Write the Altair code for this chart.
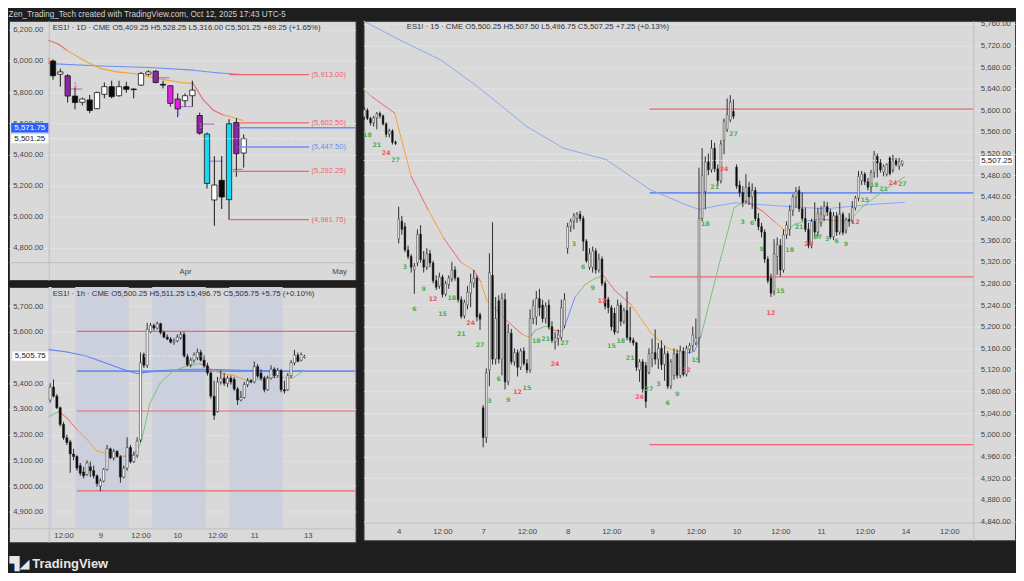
import json
import altair as alt
import pandas as pd

# ======================= TEXT =======================
HEADER = "Zen_Trading_Tech created with TradingView.com, Oct 12, 2025 17:43 UTC-5"
D_TITLE = "ES1! · 1D · CME   O5,409.25  H5,528.25  L5,316.00  C5,501.25  +89.25 (+1.65%)"
H_TITLE = "ES1! · 1h · CME   O5,500.25  H5,511.25  L5,496.75  C5,505.75  +5.75 (+0.10%)"
M_TITLE = "ES1! · 15 · CME   O5,500.25  H5,507.50  L5,496.75  C5,507.25  +7.25 (+0.13%)"
BRAND = "TradingView"
BRAND_MARK = "▜◢"

# ======================= DAILY (1D) =======================
D_BAR = list(range(1, 28))
D_OPEN = [6000, 5915, 5905, 5775, 5735, 5750, 5694, 5786, 5835, 5777, 5835, 5820, 5845, 5915,
          5934, 5850, 5841, 5756, 5745, 5777, 5650, 5531, 5108, 5234, 5110, 5605, 5409.25]
D_HIGH = [6010, 5951, 5915, 5830, 5765, 5782, 5803, 5862, 5873, 5873, 5866, 5824, 5930, 5941,
          5941, 5873, 5845, 5792, 5792, 5873, 5669, 5541, 5389, 5390, 5627, 5633, 5528.25]
D_LOW = [5880, 5835, 5733, 5690, 5715, 5665, 5690, 5760, 5760, 5771, 5796, 5760, 5840, 5905,
         5856, 5824, 5707, 5639, 5707, 5707, 5527, 5182, 4942, 5050, 4982, 5257, 5316]
D_CLOSE = [5905, 5930, 5775, 5733, 5756, 5682, 5798, 5835, 5771, 5835, 5818, 5816, 5920, 5930,
           5862, 5845, 5728, 5692, 5777, 5813, 5537, 5214, 5204, 5127, 5597, 5405, 5501.25]
D_KIND = ["down", "up", "purple", "down", "up", "down", "up", "up", "down", "up", "down", "down",
          "up", "up", "purple", "down", "magenta", "magenta", "up", "up", "purple", "cyan", "up",
          "down", "cyan", "purple", "up"]
D_TICK_POS = [19, 40]
D_TICK_TXT = ["Apr", "May"]
D_PRICE_TICKS = [4800, 5000, 5200, 5400, 5600, 5800, 6000, 6200]
D_EMA_X = [0.46, 1.8, 2.9, 5.2, 7.5, 9.7, 12.0, 14.2, 16.5, 18.7, 20.1, 21.5, 22.8, 24.2, 25.5, 26.9]
D_EMA_P = [6132, 6107, 6068, 6005, 5951, 5930, 5920, 5898, 5877, 5860, 5856, 5750, 5686, 5654, 5639, 5618]
D_EMA_C = ["red", "red", "orange", "orange", "orange", "orange", "orange", "orange", "orange",
           "orange", "red", "red", "red", "orange", "orange", "orange"]
D_SMA_X = [0.46, 7.5, 14.2, 20.1, 23.3, 26.9]
D_SMA_P = [5983, 5968, 5958, 5941, 5924, 5913]
D_LEVEL_P = [5913.00, 5602.50, 5447.50, 5292.25, 4981.75]
D_LEVEL_K = ["red", "red", "blue", "red", "red"]
D_LEVEL_START = [25.0, 26.3, 26.3, 25.5, 25.0]
D_LEVEL_END = 35.9
D_LEVEL_TAG_AT = 38.6
D_PREV_CLOSE_LINE = 5571.75
D_PREV_CLOSE_START = 26.3
D_LAST = 5501.25
D_MARK_X0 = [3.4, 15.1, 18.1, 21.0, 22.4, 25.5]
D_MARK_X1 = [5.0, 16.9, 20.0, 23.0, 24.1, 26.9]
D_MARK_P = [5820, 5892, 5707, 5595, 5357, 5304]
D_ONE_X = [0.46, 4.07, 18.1, 21.1]
D_ONE_P = [6000, 5845, 5669, 5580]
D_ONE_K = ["black", "red", "blue", "red"]

# ======================= HOURLY (1h) =======================
H_FIRST_BAR = -15
H_OHLC = [
    [5335, 5400, 5325, 5385], [5385, 5415, 5345, 5350], [5350, 5358, 5300, 5305], [5305, 5310, 5232, 5240],
    [5240, 5250, 5180, 5188], [5188, 5200, 5160, 5170], [5172, 5180, 5052, 5125], [5125, 5145, 5100, 5115],
    [5115, 5120, 5060, 5070], [5080, 5090, 5040, 5050], [5055, 5075, 5030, 5040], [5045, 5100, 5040, 5090],
    [5075, 5095, 5035, 5060], [5060, 5080, 5030, 5040], [5040, 5045, 4998, 5010], [5000, 5030, 4980, 5020],
    [5020, 5070, 5015, 5065], [5065, 5160, 5060, 5145], [5145, 5150, 5105, 5110], [5110, 5145, 5100, 5135],
    [5135, 5140, 5110, 5115], [5115, 5120, 5013, 5035], [5035, 5080, 5030, 5070], [5070, 5190, 5060, 5150],
    [5150, 5160, 5088, 5095], [5095, 5135, 5090, 5120], [5120, 5190, 5110, 5175], [5180, 5520, 5170, 5480],
    [5512, 5520, 5460, 5470], [5470, 5635, 5460, 5610], [5600, 5635, 5595, 5625], [5625, 5632, 5605, 5615],
    [5615, 5640, 5610, 5632], [5632, 5636, 5590, 5598], [5598, 5605, 5575, 5580], [5580, 5590, 5568, 5572],
    [5572, 5580, 5555, 5560], [5560, 5575, 5550, 5565], [5565, 5590, 5560, 5580], [5578, 5600, 5570, 5590],
    [5590, 5600, 5500, 5505], [5505, 5515, 5465, 5472], [5472, 5500, 5462, 5490], [5490, 5520, 5480, 5510],
    [5500, 5535, 5490, 5520], [5520, 5530, 5485, 5490], [5490, 5510, 5460, 5468], [5468, 5480, 5430, 5440],
    [5440, 5445, 5340, 5350], [5350, 5410, 5258, 5275], [5290, 5425, 5285, 5405], [5405, 5450, 5395, 5420],
    [5420, 5440, 5390, 5400], [5400, 5430, 5385, 5420], [5420, 5430, 5395, 5405], [5415, 5425, 5370, 5378],
    [5378, 5385, 5316, 5335], [5335, 5370, 5330, 5345], [5345, 5405, 5340, 5395], [5395, 5420, 5385, 5410],
    [5410, 5415, 5400, 5405], [5405, 5485, 5400, 5465], [5465, 5475, 5420, 5428], [5440, 5455, 5410, 5420],
    [5420, 5428, 5365, 5375], [5375, 5430, 5370, 5420], [5420, 5470, 5415, 5455], [5455, 5462, 5420, 5430],
    [5430, 5460, 5425, 5450], [5450, 5455, 5365, 5375], [5375, 5410, 5360, 5370], [5375, 5440, 5370, 5430],
    [5430, 5490, 5420, 5480], [5480, 5530, 5470, 5510], [5510, 5520, 5482, 5485], [5490, 5520, 5485, 5512],
    [5500.25, 5511.25, 5496.75, 5505.75],
]
H_TICK_POS = [-11, 0, 12, 23, 35, 46, 62]
H_TICK_TXT = ["12:00", "9", "12:00", "10", "12:00", "11", "13"]
# 5,500.00 sits under the last-price tag in the reference, so it is not printed
H_PRICE_TICKS = [4900, 5000, 5100, 5200, 5300, 5400, 5600, 5700]
H_BAND_START = [-30.5, -7.5, 15.5, 38.5]
H_BAND_END = [-14.5, 8.5, 31.5, 54.5]
H_EMA_X = [-15.3, -12.4, -9.9, -6.9, -4.0, -1.0, 2.0, 4.5, 6.9, 9.4, 10.9, 12.4, 14.8, 17.8, 21.8,
           25.7, 29.7, 32.1, 33.6, 36.6, 39.6, 43.5, 46.5, 49.5, 54.4, 57.4, 60.8]
H_EMA_P = [5271, 5290, 5264, 5219, 5181, 5136, 5127, 5127, 5116, 5119, 5136, 5181, 5322, 5400, 5449,
           5467, 5477, 5464, 5449, 5438, 5432, 5413, 5413, 5423, 5423, 5420, 5449]
H_EMA_C = ["green", "red", "red", "orange", "orange", "orange", "red", "orange", "blue", "blue", "green",
           "green", "green", "green", "green", "green", "red", "red", "orange", "orange", "orange",
           "green", "green", "green", "orange", "green", "green"]
H_SMA_X = [-15.3, -9.9, -4.0, 2.0, 7.9, 10.9, 12.9, 17.8, 23.7, 29.7, 35.6, 41.5, 49.5, 55.4, 60.8]
H_SMA_P = [5531, 5522, 5505, 5477, 5449, 5438, 5441, 5449, 5454, 5455, 5454, 5451, 5449, 5446, 5449]
H_LEVEL_P = [5602.50, 5447.50, 5292.25, 4981.75]
H_LEVEL_K = ["red", "blue", "red", "red"]
H_LEVEL_START = -7
H_LAST = 5505.75

# ======================= 15 MINUTE =======================
M15_APR03 = [[5588, 5606, 5582, 5601], [5600, 5604, 5582, 5585], [5585, 5588, 5572, 5577], [5577, 5590, 5570, 5586],
             [5586, 5597, 5565, 5594], [5594, 5598, 5585, 5590], [5590, 5592, 5572, 5575], [5575, 5578, 5550, 5556],
             [5556, 5566, 5550, 5562], [5562, 5565, 5537, 5541], [5541, 5544, 5536, 5539]]
M15_APR04 = [[5362, 5422, 5354, 5399], [5395, 5405, 5370, 5380], [5385, 5392, 5338, 5342], [5342, 5350, 5325, 5330],
             [5330, 5334, 5300, 5310], [5305, 5318, 5261, 5312], [5318, 5380, 5312, 5371], [5371, 5388, 5318, 5324],
             [5324, 5340, 5300, 5310], [5310, 5345, 5305, 5335], [5335, 5342, 5310, 5318], [5318, 5322, 5280, 5285],
             [5285, 5295, 5268, 5273], [5275, 5300, 5270, 5292], [5292, 5296, 5254, 5260], [5260, 5285, 5256, 5280],
             [5278, 5295, 5270, 5290], [5288, 5320, 5283, 5305], [5305, 5312, 5285, 5290], [5290, 5292, 5245, 5250],
             [5250, 5256, 5215, 5219], [5220, 5250, 5215, 5245], [5240, 5275, 5232, 5264], [5262, 5298, 5236, 5282],
             [5280, 5305, 5272, 5290], [5290, 5295, 5210, 5218], [5222, 5226, 5194, 5214]]
M15_APR07 = [[5050, 5055, 4977, 4995], [4995, 5123, 4985, 5115], [5120, 5336, 5090, 5300], [5295, 5393, 5130, 5140],
             [5140, 5255, 5130, 5215], [5248, 5258, 5132, 5140], [5140, 5262, 5110, 5252], [5250, 5262, 5084, 5098],
             [5098, 5205, 5092, 5190], [5188, 5196, 5130, 5135], [5135, 5160, 5128, 5152], [5152, 5158, 5108, 5125],
             [5125, 5160, 5120, 5155], [5155, 5162, 5128, 5132], [5132, 5140, 5114, 5120], [5120, 5232, 5115, 5215],
             [5215, 5250, 5205, 5240], [5218, 5266, 5203, 5252], [5252, 5270, 5220, 5235], [5240, 5250, 5208, 5215],
             [5215, 5245, 5206, 5238], [5240, 5250, 5195, 5200], [5200, 5210, 5170, 5175], [5172, 5190, 5158, 5180],
             [5178, 5195, 5165, 5185], [5180, 5250, 5175, 5235], [5202, 5262, 5197, 5250]]
M15_APR08 = [[5345, 5392, 5335, 5385], [5385, 5400, 5375, 5395], [5395, 5410, 5380, 5405], [5400, 5412, 5392, 5408],
             [5408, 5414, 5395, 5400], [5400, 5405, 5340, 5358], [5358, 5362, 5318, 5322], [5310, 5345, 5305, 5335],
             [5310, 5348, 5300, 5340], [5340, 5345, 5298, 5305], [5305, 5335, 5300, 5325], [5325, 5330, 5275, 5280],
             [5280, 5285, 5232, 5238], [5250, 5255, 5225, 5235], [5235, 5240, 5193, 5200], [5225, 5235, 5185, 5190],
             [5190, 5250, 5188, 5240], [5240, 5245, 5201, 5210], [5210, 5235, 5205, 5230], [5230, 5265, 5175, 5180],
             [5180, 5237, 5170, 5175], [5175, 5180, 5165, 5170], [5170, 5172, 5118, 5125], [5120, 5140, 5098, 5135],
             [5135, 5140, 5078, 5085], [5128, 5135, 5050, 5062], [5115, 5160, 5112, 5150]]
M15_APR09 = [[5140, 5178, 5125, 5152], [5152, 5195, 5130, 5140], [5140, 5170, 5122, 5160], [5160, 5175, 5120, 5130],
             [5130, 5165, 5100, 5150], [5150, 5155, 5085, 5090], [5090, 5140, 5085, 5135], [5110, 5160, 5102, 5150],
             [5150, 5158, 5104, 5110], [5110, 5165, 5105, 5155], [5155, 5162, 5108, 5112], [5112, 5165, 5108, 5160],
             [5158, 5170, 5150, 5165], [5165, 5200, 5155, 5185], [5170, 5215, 5166, 5180], [5180, 5494, 5133, 5400],
             [5400, 5530, 5395, 5480], [5450, 5515, 5417, 5505], [5505, 5520, 5480, 5490], [5490, 5545, 5485, 5530],
             [5530, 5540, 5486, 5492], [5492, 5500, 5460, 5470], [5470, 5545, 5465, 5538], [5545, 5585, 5519, 5580],
             [5565, 5622, 5560, 5592], [5582, 5628, 5578, 5615], [5598, 5620, 5584, 5589]]
M15_APR10 = [[5495, 5500, 5455, 5460], [5462, 5470, 5440, 5448], [5448, 5460, 5421, 5430], [5432, 5482, 5428, 5458],
             [5458, 5468, 5425, 5440], [5440, 5465, 5418, 5452], [5452, 5458, 5395, 5400], [5400, 5410, 5378, 5385],
             [5385, 5392, 5365, 5375], [5375, 5380, 5318, 5325], [5325, 5330, 5280, 5285], [5290, 5298, 5255, 5262],
             [5265, 5362, 5258, 5335], [5330, 5365, 5296, 5352], [5350, 5362, 5293, 5305], [5305, 5380, 5300, 5370],
             [5370, 5395, 5362, 5388], [5380, 5425, 5368, 5415], [5415, 5445, 5405, 5440], [5440, 5458, 5420, 5450],
             [5452, 5460, 5412, 5418], [5418, 5448, 5395, 5400], [5400, 5420, 5375, 5380], [5380, 5392, 5345, 5350],
             [5350, 5400, 5345, 5395], [5395, 5430, 5365, 5375], [5375, 5420, 5365, 5410]]
M15_APR11 = [[5392, 5423, 5385, 5408], [5405, 5432, 5395, 5422], [5422, 5430, 5405, 5412], [5412, 5418, 5362, 5366],
             [5366, 5412, 5360, 5405], [5405, 5412, 5368, 5375], [5375, 5430, 5370, 5408], [5408, 5412, 5369, 5374],
             [5378, 5402, 5372, 5398], [5398, 5410, 5385, 5395], [5395, 5432, 5392, 5420], [5420, 5442, 5415, 5438],
             [5438, 5488, 5432, 5478], [5470, 5488, 5462, 5482], [5482, 5486, 5462, 5468], [5468, 5475, 5452, 5458],
             [5458, 5490, 5448, 5485], [5485, 5525, 5475, 5518], [5515, 5520, 5476, 5503], [5503, 5510, 5485, 5490],
             [5486, 5500, 5478, 5497], [5482, 5502, 5478, 5500], [5512, 5515, 5480, 5483], [5490, 5518, 5485, 5508],
             [5508, 5512, 5496, 5500], [5497, 5512, 5490, 5506], [5500.25, 5507.5, 5496.75, 5507.25]]
M15_DAYS = [M15_APR03, M15_APR04, M15_APR07, M15_APR08, M15_APR09, M15_APR10, M15_APR11]
M15_BARS_PER_DAY = 27
M15_FIRST_BAR = -11
# count tags (every 3rd bar of the session) and the price where each is printed
M15_TAG_APR03 = [5554, 5536, 5521, 5508]
M15_TAG_APR04 = [5311, 5232, 5270, 5251, 5224, 5253, 5186, 5207, 5166]
M15_TAG_APR07 = [5062, 5103, 5065, 5079, 5086, 5174, 5178, 5131, 5170]
M15_TAG_APR08 = [5353, 5310, 5272, 5248, 5164, 5174, 5142, 5070, 5085]
M15_TAG_APR09 = [5094, 5058, 5076, 5120, 5139, 5390, 5458, 5491, 5557]
M15_TAG_APR10 = [5394, 5391, 5344, 5226, 5266, 5341, 5385, 5353, 5365]
M15_TAG_APR11 = [5362, 5358, 5353, 5393, 5434, 5462, 5454, 5465, 5463]
M15_TAGS = [M15_TAG_APR03, M15_TAG_APR04, M15_TAG_APR07, M15_TAG_APR08, M15_TAG_APR09, M15_TAG_APR10, M15_TAG_APR11]
M15_TICK_POS = [0, 14, 27, 41, 54, 68, 81, 95, 108, 122, 135, 149, 162, 176]
M15_TICK_TXT = ["4", "12:00", "7", "12:00", "8", "12:00", "9", "12:00", "10", "12:00", "11", "12:00", "14", "12:00"]
M15_PRICE_TICKS = list(range(4840, 5761, 40))
M15_EMA_X = [-11.2, -8.5, -1.3, 4.0, 9.3, 14.6, 19.9, 24.1, 26.2, 28.2, 31.3, 35.5, 39.7, 41.9, 43.8, 47.0,
             49.1, 52.3, 53.2, 56.4, 59.6, 62.7, 65.4, 69.1, 74.4, 80.7, 86.0, 91.3, 94.5, 96.6, 99.8, 103.0,
             107.2, 110.9, 116.2, 120.4, 123.6, 126.8, 131.0, 135.2, 139.5, 142.6, 144.7, 147.9, 152.2, 156.4, 161.7]
M15_EMA_P = [5639, 5625, 5595, 5478, 5417, 5362, 5319, 5304, 5283, 5248, 5231, 5206, 5185, 5180, 5194, 5201,
             5194, 5191, 5203, 5255, 5278, 5289, 5295, 5267, 5240, 5188, 5160, 5151, 5154, 5182, 5255, 5328,
             5420, 5433, 5414, 5393, 5377, 5390, 5396, 5399, 5396, 5396, 5399, 5420, 5439, 5457, 5477]
M15_EMA_C = ["orange", "red", "orange", "red", "orange", "red", "orange", "red", "orange", "orange", "red", "red",
             "orange", "blue", "green", "green", "red", "blue", "blue", "green", "green", "green", "red", "red",
             "orange", "orange", "orange", "blue", "blue", "green", "green", "green", "green", "red", "red",
             "orange", "green", "green", "blue", "red", "orange", "blue", "green", "green", "green", "green", "green"]
M15_SMA_X = [-11.2, 0.8, 13.5, 25.2, 41.0, 52.7, 66.4, 80.2, 92.9, 96.1, 102.4, 107.7, 122.5, 136.3, 151.1, 161.7]
M15_SMA_P = [5765, 5729, 5693, 5644, 5570, 5530, 5509, 5454, 5423, 5417, 5424, 5429, 5423, 5418, 5426, 5430]
M15_LEVEL_P = [5602.50, 5447.50, 5292.25, 4981.75]
M15_LEVEL_K = ["red", "blue", "red", "red"]
M15_LEVEL_START = 80.2
M15_LAST = 5507.25

# ======================= STYLE / LAYOUT =======================
FONT = "Liberation Sans"
PAGE_BG = "#1e1e1e"
PANEL_BG = "#d9d9d9"
BAND_BG = "#ccd0dc"
GRID = "#e2e2e2"
SEP = "#bdbdbd"
LABEL = "#454545"
RED = "#ef5f6a"
BLUE = "#4a7cf0"
TAG_GREEN = "#4caf50"
TAG_RED = "#f4525d"

LEFT_W, RIGHT_W = 349, 656
D_H, H_H, M_H = 261, 257, 523
D_X_DOM, D_Y_DOM = [-5.0, 42.255], [4593.95, 6257.36]
H_X_DOM, H_Y_DOM = [-27.30, 76.27], [4781.5, 5774.7]
M_X_DOM, M_Y_DOM = [-11.238, 197.02], [4805.1, 5765.5]
Y_OFF_LEFT, Y_OFF_RIGHT = -40, -42
D_X_OFF, H_X_OFF, M_X_OFF = -18, -14, -18


def sc(dom):
    return alt.Scale(domain=list(dom), nice=False, zero=False)


def px_to_x(dom, width, px):
    return dom[0] + px / width * (dom[1] - dom[0])


def px_to_y(dom, height, py_from_bottom):
    return dom[0] + py_from_bottom / height * (dom[1] - dom[0])


D_AXIS_X = px_to_x(D_X_DOM, LEFT_W, -Y_OFF_LEFT)
H_AXIS_X = px_to_x(H_X_DOM, LEFT_W, -Y_OFF_LEFT)
M_AXIS_X = px_to_x(M_X_DOM, RIGHT_W, RIGHT_W + Y_OFF_RIGHT)
H_PLOT_BOTTOM = px_to_y(H_Y_DOM, H_H, -H_X_OFF)


def label_expr(pos, txt):
    return f"{json.dumps(txt)}[indexof({json.dumps(pos)}, datum.value)]"


AX_COMMON = dict(ticks=False, domain=True, domainColor=SEP, labelFontSize=7.8, labelColor=LABEL,
                 labelFont=FONT, labelOverlap=False, tickCount=200)


def y_axis(values, orient, offset, pad, **kw):
    opts = dict(orient=orient, offset=offset, values=values, format=",.2f", grid=True,
                gridColor=GRID, gridWidth=1, labelPadding=pad, labelBaseline="middle",
                title=None, **AX_COMMON)
    opts.update(kw)
    return alt.Axis(**opts)


def x_axis(pos, txt, offset, pad, **kw):
    opts = dict(orient="bottom", offset=offset, values=pos, labelExpr=label_expr(pos, txt),
                grid=False, labelPadding=pad, labelBaseline="top", labelFlush=False,
                title=None, **AX_COMMON)
    opts.update(kw)
    return alt.Axis(**opts)


def carrier(xdom, ydom, xaxis, yaxis):
    df = pd.DataFrame({"x": [xdom[0]], "y": [ydom[1]]})
    return alt.Chart(df).mark_point(opacity=0, size=0, strokeWidth=0).encode(
        x=alt.X("x:Q", scale=sc(xdom), axis=xaxis),
        y=alt.Y("y:Q", scale=sc(ydom), axis=yaxis))


def X(field, dom):
    return alt.X(field, scale=sc(dom))


def Y(field, dom):
    return alt.Y(field, scale=sc(dom))


def candles(df, xdom, ydom, hw, fill_scale, wick, stroke, sw, wick_w=1.0):
    base = alt.Chart(df)
    w = base.mark_rule(color=wick, strokeWidth=wick_w).encode(
        x=X("x:Q", xdom), y=Y("low:Q", ydom), y2="high:Q")
    b = base.transform_calculate(x0=f"datum.x - {hw}", x1=f"datum.x + {hw}").mark_bar(
        stroke=stroke, strokeWidth=sw).encode(
        x=X("x0:Q", xdom), x2="x1:Q", y=Y("open:Q", ydom), y2="close:Q",
        fill=alt.Fill("kind:N", scale=fill_scale, legend=None))
    return [w, b]


MA_SCALE = alt.Scale(domain=["red", "orange", "green", "blue"],
                     range=["#ef6470", "#f4a236", "#7cc27c", "#6c8ff0"])
LEVEL_SCALE = alt.Scale(domain=["red", "blue"], range=[RED, BLUE])


def ma_line(xs, ps, xdom, ydom, colors=None, color=None, width=1.0):
    df = pd.DataFrame({"x": xs[:-1], "x2": xs[1:], "y": ps[:-1], "y2": ps[1:],
                       "c": (colors[:-1] if colors else ["blue"] * (len(xs) - 1))})
    enc = dict(x=X("x:Q", xdom), x2="x2:Q", y=Y("y:Q", ydom), y2="y2:Q")
    if colors:
        return alt.Chart(df).mark_rule(strokeWidth=width, strokeCap="round").encode(
            color=alt.Color("c:N", scale=MA_SCALE, legend=None), **enc)
    return alt.Chart(df).mark_rule(strokeWidth=width, strokeCap="round", color=color).encode(**enc)


def levels(xs, x2s, ps, kinds, xdom, ydom):
    df = pd.DataFrame({"x": xs, "x2": x2s, "y": ps, "k": kinds,
                       "w": [1.6 if k == "blue" else 1.25 for k in kinds]})
    return alt.Chart(df).mark_rule().encode(
        x=X("x:Q", xdom), x2="x2:Q", y=Y("y:Q", ydom),
        color=alt.Color("k:N", scale=LEVEL_SCALE, legend=None),
        strokeWidth=alt.StrokeWidth("w:Q", scale=None, legend=None))


def dotted(x0, x1, p, xdom, ydom):
    df = pd.DataFrame({"x": [x0], "x2": [x1], "y": [p]})
    return alt.Chart(df).mark_rule(color="#ffffff", strokeDash=[1, 2], strokeWidth=1, opacity=0.95).encode(
        x=X("x:Q", xdom), x2="x2:Q", y=Y("y:Q", ydom))


def price_box(x0, x1, p, half, fill, tcolor, xdom, ydom):
    df = pd.DataFrame({"x": [x0], "x2": [x1], "y": [p - half], "y2": [p + half], "p": [p],
                       "xm": [(x0 + x1) / 2], "t": [f"{p:,.2f}"]})
    r = alt.Chart(df).mark_rect(color=fill).encode(
        x=X("x:Q", xdom), x2="x2:Q", y=Y("y:Q", ydom), y2="y2:Q")
    t = alt.Chart(df).mark_text(color=tcolor, font=FONT, fontSize=8, baseline="middle").encode(
        x=X("xm:Q", xdom), y=Y("p:Q", ydom), text="t:N")
    return [r, t]


def panel_title(text):
    return alt.TitleParams(text, anchor="start", dx=44, offset=-11, fontSize=7.8, color="#333333",
                           font=FONT, fontWeight="normal")


# ======================= DAILY PANEL =======================
d_df = pd.DataFrame({"x": D_BAR, "open": D_OPEN, "high": D_HIGH, "low": D_LOW, "close": D_CLOSE, "kind": D_KIND})
D_FILL = alt.Scale(domain=["up", "down", "purple", "magenta", "cyan"],
                   range=["#ffffff", "#0b0b0b", "#8e24aa", "#e81ee6", "#16d9f3"])
d_layers = [carrier(D_X_DOM, D_Y_DOM,
                    x_axis(D_TICK_POS, D_TICK_TXT, D_X_OFF, 5),
                    y_axis(D_PRICE_TICKS, "left", Y_OFF_LEFT, 6))]
d_layers.append(ma_line(D_SMA_X, D_SMA_P, D_X_DOM, D_Y_DOM, color="#6d8ff2", width=1.1))
d_layers.append(ma_line(D_EMA_X, D_EMA_P, D_X_DOM, D_Y_DOM, colors=D_EMA_C, width=1.1))
mark_df = pd.DataFrame({"x": D_MARK_X0, "x2": D_MARK_X1, "y": D_MARK_P})
d_layers.append(alt.Chart(mark_df).mark_rule(color="#b07ad0", strokeWidth=1.2).encode(
    x=X("x:Q", D_X_DOM), x2="x2:Q", y=Y("y:Q", D_Y_DOM)))
d_layers += candles(d_df, D_X_DOM, D_Y_DOM, 0.36, D_FILL, "#1a1a1a", "#151515", 0.8)
d_layers.append(levels(list(D_LEVEL_START) + [D_PREV_CLOSE_START],
                       [D_LEVEL_END] * len(D_LEVEL_P) + [D_X_DOM[1]],
                       D_LEVEL_P + [D_PREV_CLOSE_LINE], D_LEVEL_K + ["blue"], D_X_DOM, D_Y_DOM))
dtag_df = pd.DataFrame({"x": [D_LEVEL_TAG_AT] * len(D_LEVEL_P), "y": D_LEVEL_P,
                        "t": [f"({p:,.2f})" for p in D_LEVEL_P], "k": D_LEVEL_K})
d_layers.append(alt.Chart(dtag_df).mark_text(font=FONT, fontSize=7.6, baseline="middle").encode(
    x=X("x:Q", D_X_DOM), y=Y("y:Q", D_Y_DOM), text="t:N",
    color=alt.Color("k:N", scale=LEVEL_SCALE, legend=None)))
one_df = pd.DataFrame({"x": D_ONE_X, "y": D_ONE_P, "k": D_ONE_K, "t": ["1"] * len(D_ONE_X)})
d_layers.append(alt.Chart(one_df).mark_text(font=FONT, fontSize=6.5, baseline="middle").encode(
    x=X("x:Q", D_X_DOM), y=Y("y:Q", D_Y_DOM), text="t:N",
    color=alt.Color("k:N", scale=alt.Scale(domain=["black", "red", "blue"],
                                           range=["#222222", RED, BLUE]), legend=None)))
d_layers.append(dotted(D_AXIS_X, D_X_DOM[1], D_LAST, D_X_DOM, D_Y_DOM))
d_layers += price_box(D_X_DOM[0] + 0.3, D_AXIS_X - 0.05, D_PREV_CLOSE_LINE, 31, "#2962ff", "#ffffff",
                      D_X_DOM, D_Y_DOM)
d_layers += price_box(D_X_DOM[0] + 0.3, D_AXIS_X - 0.05, D_LAST, 29, "#ffffff", "#222222",
                      D_X_DOM, D_Y_DOM)
daily = alt.layer(*d_layers).properties(width=LEFT_W, height=D_H, title=panel_title(D_TITLE))

# ======================= HOURLY PANEL =======================
h_x = list(range(H_FIRST_BAR, H_FIRST_BAR + len(H_OHLC)))
h_df = pd.DataFrame({"x": h_x, "open": [r[0] for r in H_OHLC], "high": [r[1] for r in H_OHLC],
                     "low": [r[2] for r in H_OHLC], "close": [r[3] for r in H_OHLC]})
h_df["kind"] = ["up" if c >= o else "down" for o, c in zip(h_df["open"], h_df["close"])]
INTRA_FILL = alt.Scale(domain=["up", "down"], range=["#9d9d9d", "#0d0d0d"])
band_df = pd.DataFrame({"x": [max(s, H_AXIS_X) for s in H_BAND_START], "x2": H_BAND_END,
                        "y": [H_PLOT_BOTTOM] * len(H_BAND_START), "y2": [H_Y_DOM[1]] * len(H_BAND_START)})
band_df = band_df[band_df["x2"] > band_df["x"]]
h_layers = [carrier(H_X_DOM, H_Y_DOM,
                    x_axis(H_TICK_POS, H_TICK_TXT, H_X_OFF, 3,
                           title=BRAND, titleX=23, titleY=35, titleAlign="left",
                           titleBaseline="middle", titleAngle=0, titleFontSize=13,
                           titleFontWeight="bold", titleColor="#e6e6e6", titleFont="Liberation Sans"),
                    y_axis(H_PRICE_TICKS, "left", Y_OFF_LEFT, 6,
                           title=BRAND_MARK, titleX=-40, titleY=278, titleAlign="left",
                           titleBaseline="middle", titleAngle=0, titleFontSize=13,
                           titleColor="#e6e6e6", titleFont="DejaVu Sans"))]
h_layers.append(alt.Chart(band_df).mark_rect(color=BAND_BG).encode(
    x=X("x:Q", H_X_DOM), x2="x2:Q", y=Y("y:Q", H_Y_DOM), y2="y2:Q"))
h_layers.append(levels([H_LEVEL_START] * len(H_LEVEL_P), [H_X_DOM[1]] * len(H_LEVEL_P),
                       H_LEVEL_P, H_LEVEL_K, H_X_DOM, H_Y_DOM))
h_layers.append(ma_line(H_SMA_X, H_SMA_P, H_X_DOM, H_Y_DOM, color="#5b86f0", width=1.1))
h_layers.append(ma_line(H_EMA_X, H_EMA_P, H_X_DOM, H_Y_DOM, colors=H_EMA_C, width=1.0))
h_layers += candles(h_df, H_X_DOM, H_Y_DOM, 0.32, INTRA_FILL, "#2e2e2e", "#1e1e1e", 0.5)
h_layers.append(dotted(H_AXIS_X, H_X_DOM[1], H_LAST, H_X_DOM, H_Y_DOM))
h_layers += price_box(H_X_DOM[0] + 1.0, H_AXIS_X - 0.15, H_LAST, 18, "#ffffff", "#222222", H_X_DOM, H_Y_DOM)
hourly = alt.layer(*h_layers).properties(width=LEFT_W, height=H_H, title=panel_title(H_TITLE))

# ======================= 15-MIN PANEL =======================
rows, tags = [], []
for d, day in enumerate(M15_DAYS):
    first = M15_FIRST_BAR if d == 0 else (d - 1) * M15_BARS_PER_DAY
    for k, r in enumerate(day):
        rows.append({"x": first + k, "open": r[0], "high": r[1], "low": r[2], "close": r[3]})
    day_tags = M15_TAGS[d]
    start_count = 27 - 3 * (len(day_tags) - 1) if d == 0 else 3
    day_first_bar = (d - 1) * M15_BARS_PER_DAY
    for j, p in enumerate(day_tags):
        n = start_count + 3 * j
        tags.append({"x": day_first_bar + n - 1, "y": p, "t": str(n)})
m_df = pd.DataFrame(rows)
m_df["kind"] = ["up" if c >= o else "down" for o, c in zip(m_df["open"], m_df["close"])]
mtag_df = pd.DataFrame(tags)

m_layers = [carrier(M_X_DOM, M_Y_DOM,
                    x_axis(M15_TICK_POS, M15_TICK_TXT, M_X_OFF, 5),
                    y_axis(M15_PRICE_TICKS, "right", Y_OFF_RIGHT, 7))]
m_layers.append(levels([M15_LEVEL_START] * len(M15_LEVEL_P), [M_AXIS_X] * len(M15_LEVEL_P),
                       M15_LEVEL_P, M15_LEVEL_K, M_X_DOM, M_Y_DOM))
m_layers.append(ma_line(M15_SMA_X, M15_SMA_P, M_X_DOM, M_Y_DOM, color="#8ea8ef", width=1.0))
m_layers.append(ma_line(M15_EMA_X, M15_EMA_P, M_X_DOM, M_Y_DOM, colors=M15_EMA_C, width=1.0))
m_layers += candles(m_df, M_X_DOM, M_Y_DOM, 0.27, INTRA_FILL, "#2e2e2e", "#1e1e1e", 0.5)
m_layers.append(alt.Chart(mtag_df).mark_text(font="DejaVu Sans", fontSize=6.3, fontWeight="bold",
                                             baseline="middle").encode(
    x=X("x:Q", M_X_DOM), y=Y("y:Q", M_Y_DOM), text="t:N",
    color=alt.condition("datum.t == '12' || datum.t == '24'", alt.value(TAG_RED), alt.value(TAG_GREEN))))
m_layers.append(dotted(M_X_DOM[0], M_AXIS_X, M15_LAST, M_X_DOM, M_Y_DOM))
m_layers += price_box(M_AXIS_X + 2.2, M_X_DOM[1] - 0.6, M15_LAST, 8.5, "#ffffff", "#222222", M_X_DOM, M_Y_DOM)
m15 = alt.layer(*m_layers).properties(width=RIGHT_W, height=M_H, title=panel_title(M_TITLE))

# ======================= ASSEMBLY =======================
left = alt.vconcat(daily, hourly, spacing=5)
chart = alt.hconcat(left, m15, spacing=5).properties(
    title=alt.TitleParams(HEADER, anchor="start", fontSize=8.2, color="#d1d1d1", font=FONT,
                          fontWeight="normal", offset=0),
    background=PAGE_BG, padding=0,
).configure_view(fill=PANEL_BG, stroke="#3a3a3a", strokeWidth=1)

chart.save("out.html", embed_options={"renderer": "svg", "actions": False})
